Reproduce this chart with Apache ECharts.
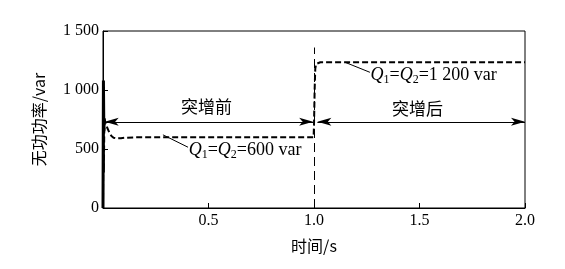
<!DOCTYPE html>
<html>
<head>
<meta charset="utf-8">
<script src="https://cdn.jsdelivr.net/npm/echarts@6/dist/echarts.min.js"></script>
<style>html,body{margin:0;padding:0;background:#fff}#c{width:565px;height:269px}</style>
</head>
<body>
<div id="c"></div>
<script>
// --- data ---
var xTicks = [0.5, 1.0, 1.5, 2.0];
var yTicks = [0, 500, 1000, 1500];
// Q1 (solid) start transient
var q1Time = [0, 0.002, 0.004, 0.006, 0.008];
var q1Val  = [0, 1080, 650, 760, 730];
// Q2 (dashed) full response
var q2Time = [0, 0.002, 0.004, 0.006, 0.009, 0.013, 0.02, 0.03, 0.04, 0.05, 0.065, 0.085, 0.11, 0.15, 0.2, 0.5, 0.8, 0.998, 1.0, 1.003, 1.006, 1.01, 1.016, 1.03, 1.2, 1.5, 1.8, 2.0];
var q2Val  = [0, 900, 300, 650, 735, 720, 680, 640, 610, 595, 590, 592, 596, 599, 600, 600, 600, 600, 700, 1000, 1180, 1220, 1232, 1235, 1235, 1235, 1235, 1235];
var stepTime = 1.0;          // moment of the sudden increase
var stepMarkTop = 1360;      // top of vertical dashed marker
var arrowLevel = 730;        // level of the double arrows
var phaseLabels = ['突增前', '突增后'];
var annot1 = '600 var';
var annot2 = '1 200 var';

var serif = '"Liberation Serif", "Noto Sans CJK SC", serif';
var cjk = '"Noto Sans CJK SC", "Liberation Serif", serif';

function zip(a, b) { return a.map(function (v, i) { return [v, b[i]]; }); }
function qLabel(val) {
  return '{q|Q}{s|1}{n|=}{q|Q}{s|2}{n|=' + val + '}';
}
var rich = {
  q: { fontFamily: serif, fontSize: 18, fontStyle: 'italic', color: '#000', lineHeight: 22, verticalAlign: 'middle' },
  n: { fontFamily: serif, fontSize: 18, color: '#000', lineHeight: 22, verticalAlign: 'middle' },
  s: { fontFamily: serif, fontSize: 12, color: '#000', lineHeight: 22, verticalAlign: 'bottom' }
};

var chart = echarts.init(document.getElementById('c'), null, { renderer: 'canvas' });
chart.setOption({
  animation: false,
  backgroundColor: '#fff',
  grid: { left: 103, right: 40, top: 31, bottom: 61, show: true, borderColor: '#000', borderWidth: 1, backgroundColor: 'transparent' },
  xAxis: {
    type: 'value', min: 0, max: 2, interval: 0.5,
    name: '时间/s', nameLocation: 'middle', nameGap: 30,
    nameTextStyle: { fontFamily: cjk, fontSize: 16, color: '#000' },
    axisLine: { lineStyle: { color: '#000', width: 1 } },
    axisTick: { inside: true, length: 5, lineStyle: { color: '#000' } },
    splitLine: { show: false },
    axisLabel: {
      fontFamily: serif, fontSize: 16, color: '#000', margin: 5,
      formatter: function (v) { return xTicks.indexOf(v) >= 0 ? v.toFixed(1) : ''; }
    }
  },
  yAxis: {
    type: 'value', min: 0, max: 1500, interval: 500,
    name: '无功功率/var', nameLocation: 'middle', nameGap: 56, nameRotate: 90,
    nameTextStyle: { fontFamily: cjk, fontSize: 16, color: '#000' },
    axisLine: { show: true, lineStyle: { color: '#000', width: 1 } },
    axisTick: { show: true, inside: true, length: 5, lineStyle: { color: '#000' } },
    splitLine: { show: false },
    axisLabel: {
      fontFamily: serif, fontSize: 16, color: '#000', margin: 4,
      formatter: function (v) { return yTicks.indexOf(v) >= 0 ? (v >= 1000 ? String(v).replace(/(\d)(\d{3})$/, '$1 $2') : String(v)) : ''; }
    }
  },
  series: [
    {
      name: 'Q2', type: 'line', data: zip(q2Time, q2Val), showSymbol: false, smooth: false,
      lineStyle: { color: '#000', width: 2, type: [6, 3] }, silent: true, z: 3,
      markLine: {
        silent: true, animation: false,
        label: { show: false },
        emphasis: { disabled: true },
        data: [
          [{ coord: [stepTime, 0], symbol: 'none', lineStyle: { color: '#000', width: 1, type: [9, 5] } },
           { coord: [stepTime, stepMarkTop], symbol: 'none' }],
          [{ coord: [0.008, arrowLevel], symbol: 'arrow', symbolSize: [6, 14], lineStyle: { color: '#000', width: 1, type: 'solid' } },
           { coord: [0.996, arrowLevel], symbol: 'arrow', symbolSize: [6, 14] }],
          [{ coord: [1.016, arrowLevel], symbol: 'arrow', symbolSize: [6, 14], lineStyle: { color: '#000', width: 1, type: 'solid' } },
           { coord: [2.0, arrowLevel], symbol: 'arrow', symbolSize: [6, 14] }],
          [{ coord: [0.284, 620], symbol: 'none', lineStyle: { color: '#000', width: 1, type: 'solid' } },
           { coord: [0.403, 515], symbol: 'none' }],
          [{ coord: [1.147, 1235], symbol: 'none', lineStyle: { color: '#000', width: 1, type: 'solid' } },
           { coord: [1.265, 1150], symbol: 'none' }]
        ]
      },
      markPoint: {
        silent: true, symbol: 'circle', symbolSize: 0,
        data: [
          { coord: [0.49, 856], label: { show: true, position: 'inside', formatter: phaseLabels[0], fontFamily: cjk, fontSize: 17, color: '#000' } },
          { coord: [1.49, 845], label: { show: true, position: 'inside', formatter: phaseLabels[1], fontFamily: cjk, fontSize: 17, color: '#000' } },
          { coord: [0.406, 490], label: { show: true, position: 'right', distance: 0, formatter: qLabel(annot1), rich: rich } },
          { coord: [1.268, 1125], label: { show: true, position: 'right', distance: 0, formatter: qLabel(annot2), rich: rich } }
        ]
      }
    },
    {
      name: 'Q1', type: 'line', data: zip(q1Time, q1Val), showSymbol: false,
      lineStyle: { color: '#000', width: 3 }, silent: true, z: 4
    }
  ]
});
</script>
</body>
</html>
